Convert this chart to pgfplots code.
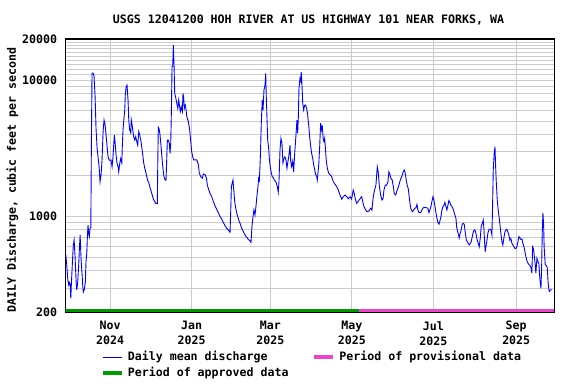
\documentclass[border=0pt]{standalone}
\usepackage{fontspec}
\usepackage{pgfplots}
\pgfplotsset{compat=1.18}
\newfontfamily\usgs{DejaVu Sans Mono}
\newcommand\uf{\usgs\bfseries\fontsize{11.6}{15}\selectfont}
\definecolor{dblue}{RGB}{0,0,255}
\definecolor{agreen}{RGB}{0,153,0}
\definecolor{ppink}{RGB}{238,68,204}
\definecolor{gridgray}{RGB}{204,204,204}
\begin{document}
\begin{tikzpicture}
\useasboundingbox (-65.3pt,-72pt) rectangle (510.7pt,312pt);
\begin{axis}[
  scale only axis, width=489pt, height=273pt,
  at={(0pt,0pt)}, anchor=south west,
  ymode=log, ymin=200, ymax=20000, xmin=-33.5, xmax=332.5,
  xtick={0,61,120,181,242,304},
  xticklabels={{Nov\\2024},{Jan\\2025},{Mar\\2025},{May\\2025},{Jul\\2025},{Sep\\2025}},
  ytick={200,1000,10000,20000}, yticklabels={200,1000,10000,20000},
  minor ytick={300,400,500,600,700,800,900,2000,3000,4000,5000,6000,7000,8000,9000,11000,12000,13000,14000,15000,16000,17000,18000,19000},
  xmajorgrids, ymajorgrids, yminorgrids,
  major grid style={gridgray, line width=0.9pt},
  minor grid style={gridgray, line width=0.9pt},
  major tick length=0pt, minor tick length=0pt,
  axis line style={line width=1.2pt, black},
  tick label style={font=\uf},
  xticklabel style={align=center, inner sep=0pt, yshift=-9pt},
  yticklabel style={inner sep=0pt, xshift=-8pt},
  legend columns=2,
  legend cell align=left,
  legend image code/.code={\draw[#1] (0pt,0pt) -- (19pt,0pt);},
  legend style={at={(axis description cs:0,0)}, anchor=north west, xshift=35.7pt, yshift=-39.5pt,
    draw=none, fill=none, inner sep=0pt, outer sep=0pt, font=\uf,
    row sep=5pt, column sep=4.5pt,
    nodes={inner sep=0pt, text height=8.5pt, text depth=2.5pt},
    /tikz/every even column/.append style={column sep=24pt}},
]
\addplot[dblue, line width=0.9pt] coordinates {
(-33.1,523) (-32.4,441) (-31.6,343) (-30.9,316) (-30.5,330) (-29.9,320) (-29.4,252) (-28.7,363) (-27.9,523) (-27.5,620) (-26.9,674) (-26.2,510) (-25.4,333) (-24.9,290) (-24.2,333) (-23.4,455) (-23.0,569) (-22.4,733) (-21.9,545) (-21.5,455) (-20.9,373) (-20.4,307) (-20.0,280) (-19.2,295) (-18.5,330) (-18.0,468) (-17.4,545) (-17.0,697) (-16.5,867) (-15.9,740) (-15.5,713) (-15.0,821) (-14.4,830) (-14.0,3160) (-13.5,11260) (-12.7,11260) (-12.0,10700) (-11.2,7600) (-10.5,4420) (-9.7,3160) (-9.0,2740) (-8.2,2317) (-7.5,1800) (-6.7,2030) (-6.0,2600) (-5.2,4200) (-4.5,5100) (-3.7,4700) (-3.0,3970) (-2.2,3250) (-1.5,2740) (-0.7,2600) (0,2580) (0.7,2600) (1.5,2317) (2.2,2740) (2.8,3430) (3.2,3970) (3.7,3540) (4.5,2820) (5.2,2470) (6.0,2317) (6.5,2130) (7.3,2470) (8.0,2670) (8.8,2470) (9.2,3330) (9.7,4310) (10.3,5100) (11.0,6040) (11.4,7770) (12.0,8900) (12.7,9200) (13.5,7020) (14.0,5100) (14.7,4310) (15.5,4100) (15.9,5100) (16.5,4700) (17.0,4310) (17.7,3850) (18.5,3640) (19.2,3850) (20.0,3540) (20.7,3330) (21.5,4200) (22.2,3970) (23.0,3640) (23.7,3250) (24.5,2820) (25.2,2470) (26.0,2260) (26.7,2130) (27.5,1960) (28.2,1830) (29.0,1770) (29.7,1660) (30.5,1566) (31.2,1480) (31.9,1400) (32.7,1323) (33.4,1290) (34.2,1250) (35.4,1250) (35.7,2400) (36.1,4520) (36.7,4400) (37.4,3970) (38.2,3250) (38.9,2670) (39.7,2194) (40.4,1960) (41.2,1850) (41.9,1850) (42.4,2600) (42.9,3640) (43.6,3640) (44.4,3430) (44.9,2900) (45.4,3430) (45.9,5890) (46.4,12640) (46.9,12640) (47.4,18000) (47.9,12640) (48.4,8000) (49.2,7400) (49.9,6800) (50.7,6200) (51.4,7150) (51.9,6550) (52.6,5890) (53.3,6380) (54.1,5890) (54.6,8000) (55.1,7400) (55.6,6200) (56.3,6550) (56.9,6040) (57.4,5420) (58.6,4970) (59.6,4310) (60.4,3540) (61.1,2990) (61.9,2740) (62.6,2600) (63.6,2600) (64.9,2600) (66.1,2400) (66.8,2080) (67.9,1960) (69.1,1910) (69.8,2050) (71.1,2030) (72.2,1910) (72.8,1700) (73.8,1580) (74.8,1480) (76.1,1400) (77.3,1290) (78.6,1195) (79.8,1130) (81.0,1070) (82.3,1000) (83.6,957) (84.8,903) (86.0,861) (87.3,821) (88.5,798) (89.8,767) (90.3,1085) (90.8,1660) (91.5,1770) (92.0,1854) (92.6,1566) (93.3,1290) (94.3,1118) (95.2,1028) (96.3,944) (97.3,893) (98.5,821) (99.7,778) (101.0,733) (102.3,704) (103.5,680) (104.7,664) (105.5,647) (106.2,844) (107.0,1000) (107.7,1118) (108.5,1028) (109.2,1185) (110.0,1440) (110.7,1660) (111.3,1960) (111.7,1800) (112.5,2740) (113.2,4840) (113.9,7150) (114.5,6040) (115.2,8460) (116.0,9200) (116.5,11200) (116.9,7770) (117.5,5100) (118.0,3640) (118.7,3160) (119.2,2670) (119.9,2320) (120.7,2080) (121.4,1960) (122.2,1930) (122.9,1850) (123.7,1820) (124.4,1770) (125.2,1660) (125.9,1510) (126.4,1770) (127.2,3075) (127.9,3740) (128.7,3430) (129.4,2470) (130.2,2670) (130.9,2740) (131.7,2600) (132.4,2260) (133.2,2550) (133.9,2820) (134.7,3330) (135.2,2550) (135.9,2320) (136.7,2550) (137.4,2130) (138.2,2900) (138.9,3640) (139.4,4310) (139.9,5100) (140.4,4090) (140.9,5280) (141.4,8700) (142.2,10300) (142.7,9900) (143.1,11450) (143.7,9000) (144.2,6800) (144.9,6040) (145.7,6550) (146.4,6550) (147.2,6200) (147.9,5540) (148.7,4650) (149.4,3850) (150.2,3250) (150.9,2900) (151.7,2670) (152.4,2400) (153.2,2194) (153.9,2030) (154.7,1960) (155.1,1850) (155.6,2080) (156.2,2400) (156.9,3250) (157.6,4840) (158.4,4310) (158.8,4650) (159.6,3640) (160.1,3540) (160.6,3740) (161.1,3250) (161.8,2600) (162.6,2260) (163.6,2080) (164.6,2030) (165.9,1960) (167.1,1800) (168.3,1730) (169.6,1660) (170.8,1566) (172.1,1440) (173.4,1340) (174.6,1400) (175.8,1440) (177.1,1400) (178.3,1350) (179.6,1400) (180.8,1340) (182.0,1566) (182.8,1480) (183.5,1350) (184.6,1250) (185.8,1300) (187.1,1350) (188.3,1400) (189.1,1290) (190.0,1185) (191.3,1118) (192.5,1085) (193.8,1100) (195.1,1150) (196.0,1118) (197.0,1400) (198.0,1566) (199.0,1700) (200.0,2317) (200.7,2130) (201.5,1700) (202.5,1440) (203.5,1323) (204.3,1350) (205.0,1566) (206.0,1700) (207.0,1700) (208.0,1800) (208.7,2130) (209.5,2030) (210.2,1910) (211.2,1850) (212.0,1660) (212.7,1480) (213.8,1440) (214.5,1520) (215.3,1600) (216.2,1700) (217.2,1850) (218.3,1960) (219.4,2130) (220.2,2194) (220.9,2080) (221.7,1850) (222.4,1700) (223.2,1600) (223.9,1400) (224.5,1250) (225.2,1135) (226.2,1085) (226.9,1100) (228.0,1150) (228.9,1160) (229.7,1230) (230.4,1118) (231.2,1070) (232.5,1070) (233.4,1118) (234.4,1160) (235.7,1170) (236.9,1160) (237.9,1150) (238.7,1070) (239.4,1118) (240.2,1190) (240.9,1290) (241.7,1400) (242.4,1323) (243.2,1185) (243.9,1070) (244.7,970) (245.4,903) (246.2,880) (246.9,930) (247.7,1000) (248.4,1118) (249.2,1185) (249.9,1210) (250.6,1270) (251.4,1185) (252.1,1118) (252.9,1210) (253.6,1310) (254.4,1270) (255.1,1210) (255.9,1185) (256.6,1150) (257.4,1085) (258.1,1028) (258.9,970) (259.4,844) (260.1,778) (260.9,733) (261.3,697) (262.1,756) (262.8,798) (263.6,880) (264.3,893) (265.1,880) (265.8,770) (266.6,680) (267.3,654) (268.1,636) (268.8,620) (269.6,636) (270.3,654) (271.1,713) (271.8,770) (272.6,798) (273.3,790) (274.1,733) (274.8,670) (275.6,636) (276.3,601) (277.1,697) (277.8,844) (278.6,893) (279.3,944) (279.8,821) (280.4,636) (280.8,553) (281.3,601) (282.1,670) (282.8,756) (283.6,805) (284.3,810) (285.1,798) (285.8,733) (286.3,1185) (286.8,2194) (287.5,2900) (288.1,3250) (288.6,2317) (289.0,1850) (289.8,1323) (290.5,1118) (291.3,970) (291.8,880) (292.5,756) (293.3,654) (294.0,620) (294.8,700) (295.5,770) (296.3,798) (297.0,810) (297.8,770) (298.5,733) (299.3,670) (300.0,690) (300.8,636) (301.5,620) (302.3,601) (303.0,585) (303.8,585) (304.5,601) (305.3,654) (306.0,713) (306.8,697) (307.5,680) (308.3,685) (309.0,636) (309.8,601) (310.5,553) (311.3,508) (312.0,474) (312.8,455) (313.5,445) (314.2,440) (315.0,425) (315.7,385) (316.3,600) (316.7,590) (317.2,550) (318.0,465) (318.7,385) (319.5,495) (320.2,470) (321.0,450) (321.5,373) (322.0,325) (322.5,298) (323.0,415) (323.5,770) (324.0,1060) (324.5,880) (324.9,600) (325.7,445) (326.4,440) (327.2,425) (327.9,325) (328.7,283) (329.7,290) (330.5,292)
};
\addlegendentry{Daily mean discharge}
\addplot[ppink, line width=3.4pt] coordinates {(186.4,206) (332.5,206)};
\addlegendentry{Period of provisional data}
\addplot[agreen, line width=3.4pt] coordinates {(-33.5,206) (186.4,206)};
\addlegendentry{Period of approved data}
\end{axis}
\node[font=\uf, anchor=base] at (243.2pt,288.7pt) {USGS 12041200 HOH RIVER AT US HIGHWAY 101 NEAR FORKS, WA};
\node[font=\uf, rotate=90, anchor=base] at (-49.3pt,132pt) {DAILY Discharge, cubic feet per second};
\end{tikzpicture}
\end{document}
